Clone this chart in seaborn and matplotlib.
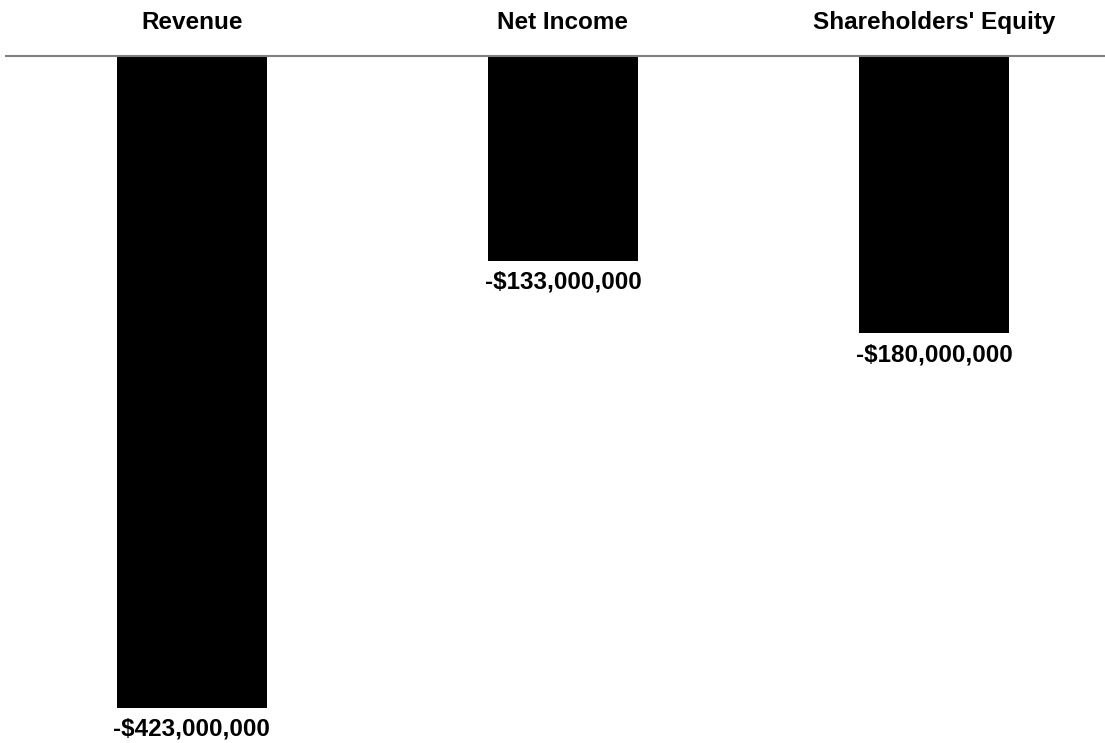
import matplotlib
matplotlib.use("Agg")
import matplotlib.pyplot as plt
import seaborn as sns
import pandas as pd

categories = ["Revenue", "Net Income", "Shareholders' Equity"]
values = [-423_000_000, -133_000_000, -180_000_000]

df = pd.DataFrame({"metric": categories, "value": values})

sns.set_style("white")
plt.rcParams["font.family"] = ["Liberation Sans", "DejaVu Sans"]

W, H, DPI = 1105, 743, 100
fig = plt.figure(figsize=(W / DPI, H / DPI), dpi=DPI)
# axes box in pixel terms: left 6, right 1104, top 56, bottom 740
ax = fig.add_axes([6 / W, 1 - 740 / H, (1104 - 6) / W, (740 - 56) / H])

sns.barplot(data=df, x="metric", y="value", color="black", saturation=1,
            width=0.404, ax=ax, errorbar=None, linewidth=0)

ax.set_xlim(-0.501, 2.458)
ax.set_ylim(-443.9e6, 0)

ax.xaxis.tick_top()
ax.tick_params(axis="x", length=0, pad=15.5, labelsize=17.5, labelcolor="black")
for lbl in ax.get_xticklabels():
    lbl.set_fontweight("bold")
ax.set_xlabel("")
ax.set_ylabel("")
ax.set_yticks([])

for side in ["left", "right", "bottom"]:
    ax.spines[side].set_visible(False)
ax.spines["top"].set_color("#808080")
ax.spines["top"].set_linewidth(1.5)

for i, v in enumerate(values):
    ax.annotate(f"-${abs(v):,.0f}", xy=(i, v), xytext=(0, -7),
                textcoords="offset points", ha="center", va="top",
                fontsize=17.5, fontweight="bold", color="black")

fig.savefig("out.png", dpi=DPI, facecolor="white")
